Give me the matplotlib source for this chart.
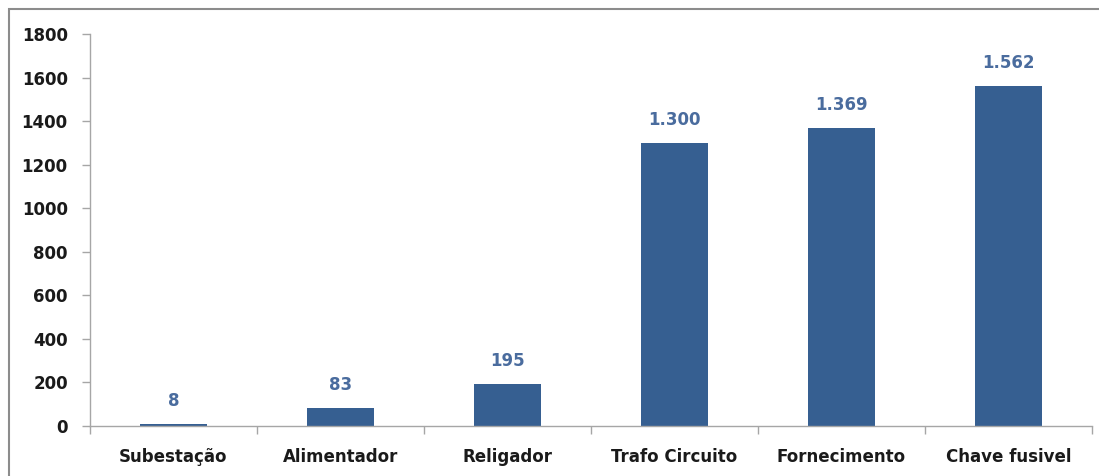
import matplotlib
matplotlib.use("Agg")
import matplotlib.pyplot as plt
from matplotlib.patches import Rectangle

categories = ["Subestação", "Alimentador", "Religador", "Trafo Circuito", "Fornecimento", "Chave fusivel"]
values = [8, 83, 195, 1300, 1369, 1562]
yticks = [0, 200, 400, 600, 800, 1000, 1200, 1400, 1600, 1800]

plt.rcParams['font.family'] = ['DejaVu Sans']

W, H = 1099, 476
fig = plt.figure(figsize=(W/100, H/100), dpi=100)
ax = fig.add_axes([90/W, 1-426/H, (1092-90)/W, (426-34)/H])

bar_color = "#365F91"
label_color = "#4A6C9E"
x = list(range(len(categories)))
bars = ax.bar(x, values, width=0.4, color=bar_color)

for xi, v in zip(x, values):
    txt = f"{v:,}".replace(",", ".")
    ax.annotate(txt, (xi, v), xytext=(0, 10), textcoords="offset points",
                ha="center", va="bottom", color=label_color, fontsize=12, fontweight="bold")

ax.set_xlim(-0.5, len(categories) - 0.5)
ax.set_ylim(0, 1800)
ax.set_yticks(yticks)
ax.set_yticklabels([str(t) for t in yticks], fontsize=12, fontweight="bold", color="#1a1a1a")
ax.set_xticks(x)
ax.set_xticklabels(categories, fontsize=12, fontweight="bold", color="#1a1a1a")
ax.tick_params(axis="x", length=0, pad=16)
ax.set_xticks([i + 0.5 for i in range(-1, len(categories))], minor=True)
ax.tick_params(axis="x", which="minor", length=6, color="#A6A6A6", width=1)
ax.tick_params(axis="y", length=6, color="#A6A6A6", width=1, pad=10)

for s in ["top", "right"]:
    ax.spines[s].set_visible(False)
for s in ["left", "bottom"]:
    ax.spines[s].set_color("#A6A6A6")
    ax.spines[s].set_linewidth(1)

fig.patches.append(Rectangle((9/W, -0.02), 1.05, 1 - 9/H + 0.02, transform=fig.transFigure,
                             fill=False, edgecolor="#8C8C8C", linewidth=1.5))

fig.savefig("out.png", dpi=100)
